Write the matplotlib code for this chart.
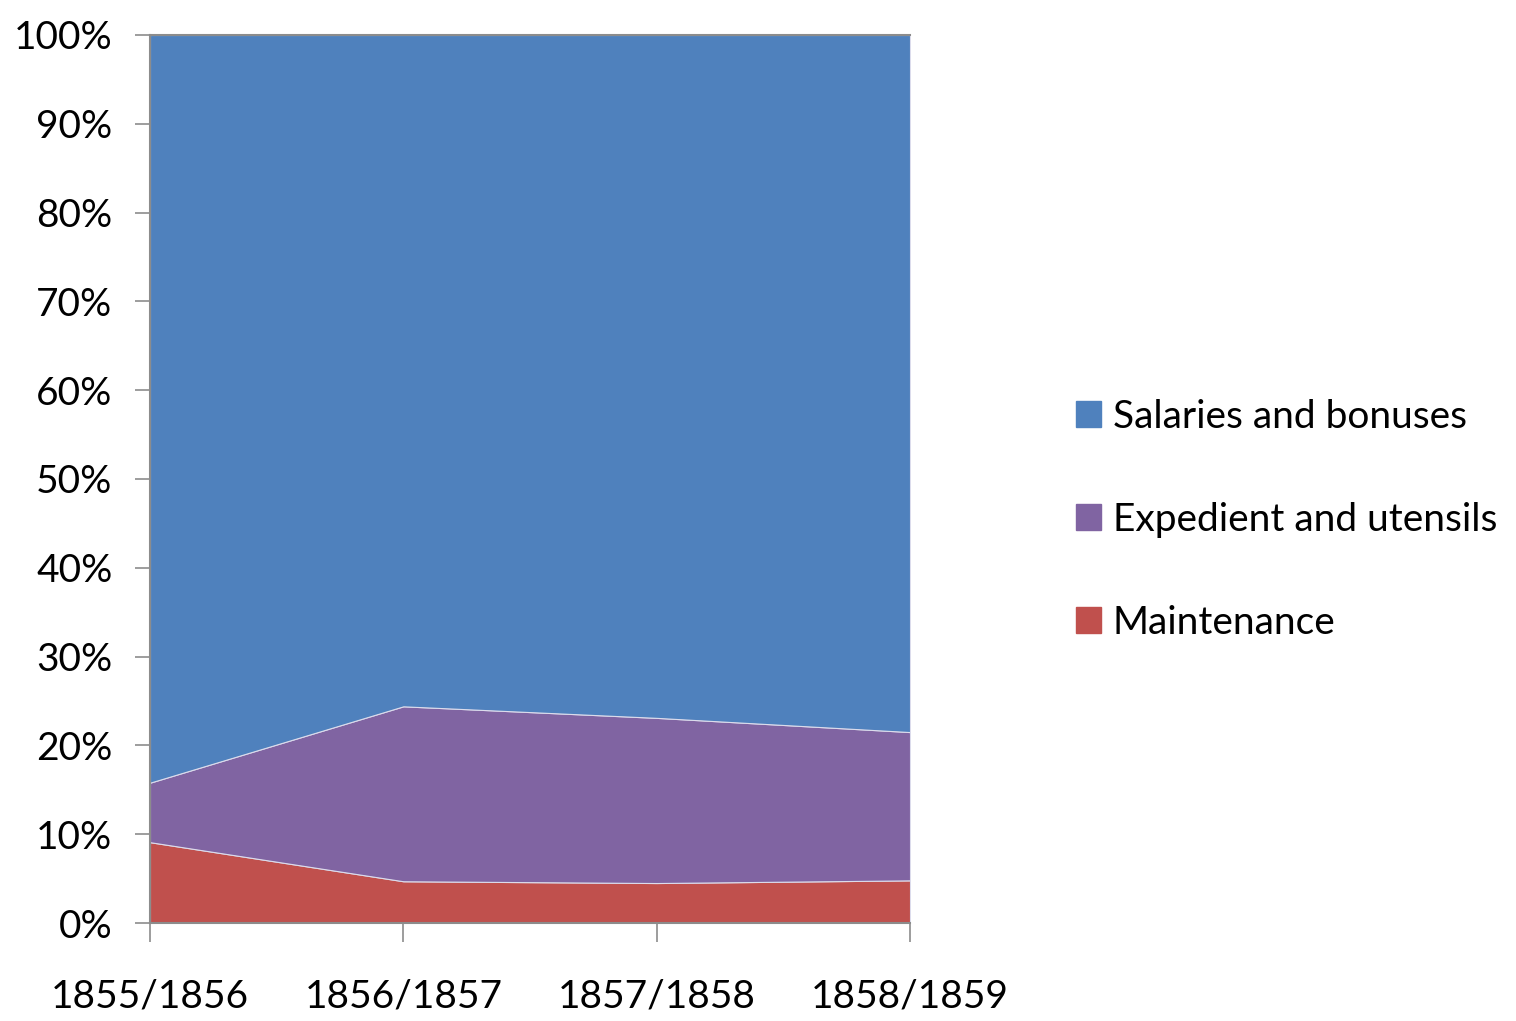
import matplotlib
matplotlib.use('Agg')
import matplotlib.pyplot as plt
from matplotlib.patches import Patch
from matplotlib.ticker import PercentFormatter

plt.rcParams['font.family'] = ['Lato', 'DejaVu Sans']

years = ['1855/1856', '1856/1857', '1857/1858', '1858/1859']
maintenance = [9.1, 4.7, 4.5, 4.8]
expedient = [6.7, 19.7, 18.6, 16.7]
salaries = [100 - m - e for m, e in zip(maintenance, expedient)]

labels = ['Maintenance', 'Expedient and utensils', 'Salaries and bonuses']
colors = ['#C0504D', '#8064A2', '#4F81BD']

fig = plt.figure(figsize=(15.16, 10.21), dpi=100)
ax = fig.add_axes([150 / 1516, 1 - 923 / 1021, 760 / 1516, 888 / 1021])

x = range(len(years))
ax.stackplot(x, maintenance, expedient, salaries, colors=colors,
             edgecolor='#dcdcec', linewidth=0.8)

ax.set_xlim(0, len(years) - 1)
ax.set_ylim(0, 100)
ax.set_xticks(list(x))
ax.set_xticklabels(years)
ax.set_yticks(range(0, 101, 10))
ax.yaxis.set_major_formatter(PercentFormatter(decimals=0))

ax.spines['right'].set_visible(False)
for s in ['left', 'bottom', 'top']:
    ax.spines[s].set_color('#8c8c8c')
    ax.spines[s].set_linewidth(1.5)

ax.tick_params(axis='y', length=11, width=1.2, color='#8c8c8c', pad=16,
               labelsize=28)
ax.tick_params(axis='x', length=14, width=1.2, color='#8c8c8c', pad=26,
               labelsize=28)

handles = [Patch(color=c) for c in colors]
leg = fig.legend(handles[::-1], labels[::-1], loc='center left',
                 bbox_to_anchor=(1076 / 1516, 1 - 520 / 1021),
                 frameon=False, fontsize=28, handlelength=0.65,
                 handleheight=0.65, handletextpad=0.3, labelspacing=1.72,
                 borderaxespad=0, borderpad=0)

fig.savefig('out.png', dpi=100)
